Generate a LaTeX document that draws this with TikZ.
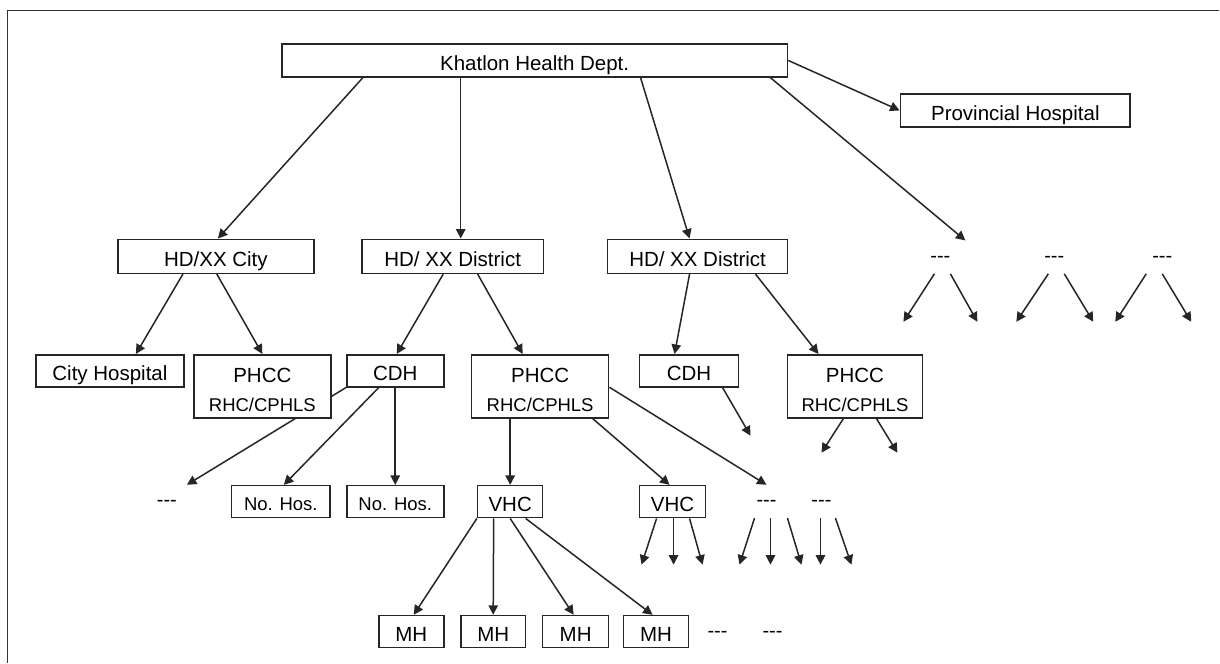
\documentclass[tikz,border=0pt]{standalone}
\usepackage{fontspec}
\setmainfont{Liberation Sans}
\usetikzlibrary{arrows.meta,backgrounds}
\newcommand{\fsz}[2]{\fontsize{#1}{#2}\selectfont}

\begin{document}
\begin{tikzpicture}[x=1pt,y=-1pt,
  framebox/.style={draw=black!85, line width=1.6pt, fill=white, inner sep=0pt},
  box/.style={framebox, minimum height=32pt, text height=20pt, text depth=0pt, font=\fsz{20.5}{24}},
  smallbox/.style={box, text height=17pt, font=\fsz{18.5}{22}},
  twoline/.style={framebox, minimum height=63pt, align=center, font=\fsz{20.5}{29.5}},
  dashlabel/.style={inner sep=0pt, minimum height=33pt, text height=10.8pt, text depth=0pt, font=\fsz{20}{24}},
  arrowline/.style={draw=black!85, line width=1.5pt, -{Triangle[length=9.5pt,width=9.5pt]}},
]
% canvas and the visible part of the outer frame
\fill[white] (0,0) rectangle (1220,663);
\draw[black!80, line width=1.6pt] (1220,10.5) -- (7.5,10.5) -- (7.5,663);

% top level
\node[box, minimum width=506pt, minimum height=33pt] (khatlon) at (535,60.5) {Khatlon Health Dept.};
\node[box, minimum width=230pt, minimum height=33pt] (prov) at (1016,110.5) {Provincial Hospital};

% district level
\node[box, minimum width=196pt, minimum height=34pt] (city) at (216,256.5) {HD/XX City};
\node[box, minimum width=182pt, minimum height=34pt] (dist1) at (453,256.5) {HD/ XX District};
\node[box, minimum width=180pt, minimum height=34pt] (dist2) at (698,256.5) {HD/ XX District};
\node[dashlabel] (t1) at (941,257.3) {-{}-{}-};
\node[dashlabel] (t2) at (1055,257.3) {-{}-{}-};
\node[dashlabel] (t3) at (1163,257.3) {-{}-{}-};

% facility level
\node[box, minimum width=148pt] (cityhosp) at (110,371) {City Hospital};
\node[box, minimum width=97pt] (cdh1) at (395.5,371) {CDH};
\node[box, minimum width=99pt] (cdh2) at (689.5,371) {CDH};

% branch from the city CDH, passing behind the first PHCC box
\node[dashlabel] (d1) at (167,501.8) {-{}-{}-};
\draw[arrowline] (cdh1.south west) -- ([xshift=20pt]d1.north);

\node[twoline, minimum width=137pt] (phcc1) at (262.5,386.5) {\rule{0pt}{21.4pt}PHCC\\\fsz{18.5}{29.5}RHC/CPHLS};
\node[twoline, minimum width=137pt] (phcc2) at (540.5,386.5) {\rule{0pt}{21.4pt}PHCC\\\fsz{18.5}{29.5}RHC/CPHLS};
\node[twoline, minimum width=135pt] (phcc3) at (855.5,386.5) {\rule{0pt}{21.4pt}PHCC\\\fsz{18.5}{29.5}RHC/CPHLS};

% village level
\node[smallbox, minimum width=99pt] (nohos1) at (281,502) {No. Hos.};
\node[smallbox, minimum width=97pt] (nohos2) at (395.5,502) {No. Hos.};
\node[box, minimum width=65pt, text height=19pt] (vhc1) at (510.5,502) {VHC};
\node[box, minimum width=66pt, text height=19pt] (vhc2) at (673,502) {VHC};
\node[dashlabel] (d2) at (767,501.8) {-{}-{}-};
\node[dashlabel] (d3) at (822,501.8) {-{}-{}-};

% health posts
\node[box, minimum width=65pt] (mh1) at (411.5,632) {MH};
\node[box, minimum width=65pt] (mh2) at (493.5,632) {MH};
\node[box, minimum width=66pt] (mh3) at (576,632) {MH};
\node[box, minimum width=65pt] (mh4) at (656.5,632) {MH};
\node[dashlabel] (d4) at (718,632.5) {-{}-{}-};
\node[dashlabel] (d5) at (773,632.5) {-{}-{}-};

% open ends of the branches
\coordinate (t1l) at (904,322);  \coordinate (t1r) at (978,322);
\coordinate (t2l) at (1017,322); \coordinate (t2r) at (1094,322);
\coordinate (t3l) at (1116,322); \coordinate (t3r) at (1192,322);
\coordinate (c2f) at (751,436);
\coordinate (p3l) at (822,453);  \coordinate (p3r) at (898,453);
\coordinate (v2a) at (642,565);  \coordinate (v2b) at (674,565); \coordinate (v2c) at (703,565);
\coordinate (d2a) at (740,565);  \coordinate (d2b) at (771,565); \coordinate (d2c) at (802,565);
\coordinate (d3a) at (821,565);  \coordinate (d3b) at (852,565);

% connectors from the health department
\draw[arrowline] ([xshift=-172pt]khatlon.south) -- ([xshift=2pt]city.north);
\draw[arrowline] ([xshift=-74pt]khatlon.south) -- ([xshift=8pt]dist1.north);
\draw[arrowline] ([xshift=106pt]khatlon.south) -- ([xshift=-8pt]dist2.north);
\draw[arrowline] ([xshift=236pt]khatlon.south) -- ([xshift=25pt]t1.north);
\draw[arrowline] (khatlon.east) -- (prov.west);

\draw[arrowline] ([xshift=-6pt]t1.south) -- (t1l);
\draw[arrowline] ([xshift=10pt]t1.south) -- (t1r);
\draw[arrowline] ([xshift=-6pt]t2.south) -- (t2l);
\draw[arrowline] ([xshift=10pt]t2.south) -- (t2r);
\draw[arrowline] ([xshift=-16pt]t3.south) -- (t3l);
\draw[arrowline] (t3.south) -- (t3r);

% district to facility
\draw[arrowline] ([xshift=-33pt]city.south) -- ([xshift=26pt]cityhosp.north);
\draw[arrowline] ([xshift=1pt]city.south) -- (phcc1.north);
\draw[arrowline] ([xshift=-9.5pt]dist1.south) -- ([xshift=1.5pt]cdh1.north);
\draw[arrowline] ([xshift=25pt]dist1.south) -- ([xshift=-17.5pt]phcc2.north);
\draw[arrowline] ([xshift=-8pt]dist2.south) -- ([xshift=-14.5pt]cdh2.north);
\draw[arrowline] ([xshift=58pt]dist2.south) -- ([xshift=-36.5pt]phcc3.north);

% facility to village
\draw[arrowline] ([xshift=-16.5pt]cdh1.south) -- ([xshift=3pt]nohos1.north);
\draw[arrowline] (cdh1.south) -- (nohos2.north);
\draw[arrowline] ([xshift=33.5pt]cdh2.south) -- (c2f);
\draw[arrowline] ([xshift=-11.5pt]phcc3.south) -- (p3l);
\draw[arrowline] ([xshift=21.5pt]phcc3.south) -- (p3r);
\draw[arrowline] ([xshift=-30pt]phcc2.south) -- (vhc1.north);
\draw[arrowline] ([xshift=52.5pt]phcc2.south) -- ([xshift=-3pt]vhc2.north);
\draw[arrowline] ([yshift=-1pt]phcc2.east) -- (d2.north);

\draw[arrowline] ([xshift=-16pt]vhc2.south) -- (v2a);
\draw[arrowline] ([xshift=1pt]vhc2.south) -- (v2b);
\draw[arrowline] ([xshift=17pt]vhc2.south) -- (v2c);
\draw[arrowline] ([xshift=-12pt]d2.south) -- (d2a);
\draw[arrowline] ([xshift=4pt]d2.south) -- (d2b);
\draw[arrowline] ([xshift=21pt]d2.south) -- (d2c);
\draw[arrowline] ([xshift=-1pt]d3.south) -- (d3a);
\draw[arrowline] ([xshift=14pt]d3.south) -- (d3b);

% village health committee to health posts
\draw[arrowline] (vhc1.south west) -- ([xshift=2.5pt]mh1.north);
\draw[arrowline] ([xshift=-16.5pt]vhc1.south) -- (mh2.north);
\draw[arrowline] (vhc1.south) -- ([xshift=-2pt]mh3.north);
\draw[arrowline] ([xshift=15.5pt]vhc1.south) -- ([xshift=-3.5pt]mh4.north);
\end{tikzpicture}
\end{document}
